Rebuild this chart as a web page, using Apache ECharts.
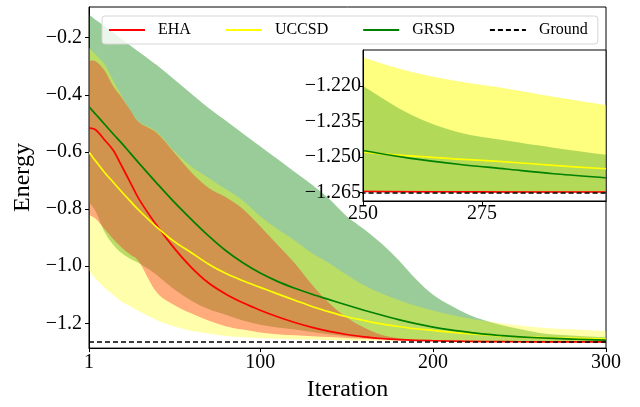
<!DOCTYPE html>
<html>
<head>
<meta charset="utf-8">
<script src="https://cdn.jsdelivr.net/npm/echarts@6/dist/echarts.min.js"></script>
<style>html,body{margin:0;padding:0;background:#fff;}#chart{width:640px;height:407px;}</style>
</head>
<body>
<div id="chart"></div>
<script>
const iterations = [1,5,10,15,20,25,30,40,50,60,70,80,90,100,110,120,130,140,150,160,170,180,190,200,210,220,230,240,250,260,270,280,290,301];

const ehaMean   = [-0.516,-0.523,-0.558,-0.594,-0.650,-0.708,-0.766,-0.856,-0.935,-1.003,-1.058,-1.097,-1.128,-1.154,-1.177,-1.197,-1.214,-1.228,-1.239,-1.2475,-1.253,-1.257,-1.2595,-1.261,-1.2622,-1.2632,-1.2638,-1.2642,-1.2645,-1.2646,-1.2646,-1.2647,-1.2647,-1.2647];
const ehaUpper  = [-0.281,-0.283,-0.315,-0.370,-0.410,-0.455,-0.497,-0.532,-0.600,-0.670,-0.725,-0.758,-0.800,-0.860,-0.925,-0.990,-1.065,-1.130,-1.180,-1.215,-1.240,-1.252,-1.258,-1.261,-1.2625,-1.263,-1.2635,-1.2638,-1.2641,-1.2642,-1.2643,-1.2643,-1.2644,-1.2644];
const ehaLower  = [-0.820,-0.835,-0.870,-0.905,-0.935,-0.960,-0.985,-1.090,-1.135,-1.165,-1.190,-1.210,-1.222,-1.232,-1.238,-1.242,-1.245,-1.248,-1.251,-1.254,-1.257,-1.259,-1.261,-1.262,-1.263,-1.2638,-1.2642,-1.2645,-1.2647,-1.2648,-1.2649,-1.2649,-1.2649,-1.2649];

const uccsdMean  = [-0.601,-0.633,-0.672,-0.706,-0.740,-0.773,-0.805,-0.862,-0.912,-0.952,-0.992,-1.025,-1.051,-1.074,-1.097,-1.119,-1.141,-1.160,-1.177,-1.190,-1.202,-1.211,-1.219,-1.225,-1.231,-1.236,-1.240,-1.244,-1.2478,-1.2495,-1.2508,-1.2520,-1.2535,-1.2549];
const uccsdUpper = [-0.235,-0.260,-0.293,-0.350,-0.405,-0.455,-0.495,-0.528,-0.595,-0.650,-0.690,-0.730,-0.770,-0.825,-0.870,-0.910,-0.955,-0.990,-1.030,-1.067,-1.095,-1.118,-1.138,-1.155,-1.170,-1.182,-1.192,-1.201,-1.208,-1.214,-1.218,-1.221,-1.2245,-1.228];
const uccsdLower = [-1.015,-1.045,-1.075,-1.100,-1.125,-1.140,-1.158,-1.188,-1.210,-1.226,-1.236,-1.244,-1.249,-1.252,-1.254,-1.256,-1.257,-1.258,-1.259,-1.260,-1.2605,-1.261,-1.2615,-1.262,-1.2625,-1.263,-1.2635,-1.264,-1.2645,-1.2647,-1.2648,-1.2648,-1.2648,-1.2648];

const grsdMean  = [-0.442,-0.469,-0.503,-0.537,-0.570,-0.605,-0.640,-0.708,-0.774,-0.835,-0.893,-0.945,-0.988,-1.024,-1.053,-1.077,-1.098,-1.117,-1.136,-1.154,-1.171,-1.187,-1.201,-1.213,-1.223,-1.231,-1.238,-1.243,-1.2472,-1.2505,-1.2530,-1.2550,-1.2570,-1.2587];
const grsdUpper = [-0.119,-0.138,-0.160,-0.183,-0.205,-0.228,-0.250,-0.295,-0.345,-0.395,-0.445,-0.490,-0.535,-0.580,-0.625,-0.670,-0.715,-0.765,-0.825,-0.870,-0.920,-0.978,-1.045,-1.100,-1.137,-1.168,-1.190,-1.207,-1.220,-1.232,-1.2395,-1.243,-1.246,-1.249];
const grsdLower = [-0.775,-0.810,-0.880,-0.925,-0.955,-0.975,-0.990,-1.030,-1.080,-1.120,-1.150,-1.170,-1.190,-1.205,-1.215,-1.222,-1.230,-1.238,-1.245,-1.250,-1.254,-1.257,-1.259,-1.261,-1.262,-1.263,-1.2638,-1.2643,-1.2647,-1.2648,-1.2648,-1.2648,-1.2648,-1.2648];

const groundEnergy = -1.2651;
const groundIterations = [1, 301];

const xTicksMain = [1, 100, 200, 300];
const yTicksMain = [-1.2, -1.0, -0.8, -0.6, -0.4, -0.2];
const xTicksInset = [250, 275];
const yTicksInset = [-1.265, -1.25, -1.235, -1.22];

const FONT = 'Liberation Serif';
const fmt = d => v => v.toFixed(d).replace('-', '\u2212');

function pairs(ys) { return iterations.map((x, i) => [x, ys[i]]); }

function smoothSegs(p) {
  let d = '';
  const n = p.length;
  for (let i = 0; i < n - 1; i++) {
    const p0 = p[Math.max(i - 1, 0)], p1 = p[i], p2 = p[i + 1], p3 = p[Math.min(i + 2, n - 1)];
    const c1 = [p1[0] + (p2[0] - p0[0]) / 6, p1[1] + (p2[1] - p0[1]) / 6];
    const c2 = [p2[0] - (p3[0] - p1[0]) / 6, p2[1] - (p3[1] - p1[1]) / 6];
    d += ' C' + c1[0] + ',' + c1[1] + ' ' + c2[0] + ',' + c2[1] + ' ' + p2[0] + ',' + p2[1];
  }
  return d;
}

function clipOf(cs) { return { type: 'rect', shape: { x: cs.x, y: cs.y, width: cs.width, height: cs.height } }; }

function band(name, upper, lower, color, xi, yi, z) {
  return {
    type: 'custom', name: name, xAxisIndex: xi, yAxisIndex: yi, z: z, silent: true,
    data: [[iterations[0], upper[0]]],
    renderItem: function (params, api) {
      const up = pairs(upper).map(p => api.coord(p));
      const lo = pairs(lower).map(p => api.coord(p)).reverse();
      const d = 'M' + up[0][0] + ',' + up[0][1] + smoothSegs(up) +
                ' L' + lo[0][0] + ',' + lo[0][1] + smoothSegs(lo) + ' Z';
      return { type: 'path', shape: { pathData: d }, style: { fill: color, stroke: null }, clipPath: clipOf(params.coordSys) };
    }
  };
}

function curve(name, ys, color, xi, yi, z) {
  return {
    type: 'custom', name: name + ' curve', xAxisIndex: xi, yAxisIndex: yi, z: z, silent: true,
    data: [[iterations[0], ys[0]]],
    renderItem: function (params, api) {
      const pts = pairs(ys).map(p => api.coord(p));
      const d = 'M' + pts[0][0] + ',' + pts[0][1] + smoothSegs(pts);
      return { type: 'path', shape: { pathData: d }, style: { fill: null, stroke: color, lineWidth: 1.7 }, clipPath: clipOf(params.coordSys) };
    }
  };
}

function legendLine(name, color) {
  return {
    type: 'line', name: name, data: [], symbol: 'none', showSymbol: false,
    lineStyle: { color: color, width: 1.7 }, itemStyle: { color: color }, silent: true
  };
}

function ground(xi, yi, z) {
  return {
    type: 'line', name: 'Ground', xAxisIndex: xi, yAxisIndex: yi, z: z,
    data: groundIterations.map(x => [x, groundEnergy]), symbol: 'none', showSymbol: false,
    lineStyle: { color: '#000', width: 1.6, type: [5, 3] }, itemStyle: { color: '#000' }, silent: true
  };
}

const axisCommon = {
  axisLine: { show: true, onZero: false, lineStyle: { color: '#000', width: 1 } },
  splitLine: { show: false },
};

const chart = echarts.init(document.getElementById('chart'), null, { renderer: 'canvas' });
chart.setOption({
  animation: false,
  backgroundColor: '#fff',
  grid: [
    { left: 89, top: 7, right: 34, bottom: 55, show: true, borderColor: '#000', borderWidth: 1, backgroundColor: 'transparent', z: 0 },
    { left: 363, top: 50, width: 243, height: 151, show: true, borderColor: '#000', borderWidth: 1, backgroundColor: '#fff', z: 10 }
  ],
  xAxis: [
    Object.assign({}, axisCommon, {
      type: 'value', gridIndex: 0, min: 1, max: 300,
      axisTick: { show: true, length: 4, customValues: xTicksMain, lineStyle: { color: '#000' } },
      axisLabel: { customValues: xTicksMain, color: '#000', fontFamily: FONT, fontSize: 20, margin: 5 },
      name: 'Iteration', nameLocation: 'middle', nameGap: 27,
      nameTextStyle: { color: '#000', fontFamily: FONT, fontSize: 24 }
    }),
    Object.assign({}, axisCommon, {
      type: 'value', gridIndex: 1, min: 250, max: 301, z: 13,
      axisTick: { show: true, length: 4, customValues: xTicksInset, lineStyle: { color: '#000' } },
      axisLabel: { customValues: xTicksInset, color: '#000', fontFamily: FONT, fontSize: 20, margin: 3 }
    })
  ],
  yAxis: [
    Object.assign({}, axisCommon, {
      type: 'value', gridIndex: 0, min: -1.2867, max: -0.0925,
      axisTick: { show: true, length: 4, customValues: yTicksMain, lineStyle: { color: '#000' } },
      axisLabel: { customValues: yTicksMain, color: '#000', fontFamily: FONT, fontSize: 20, margin: 7, formatter: fmt(1) },
      name: 'Energy', nameLocation: 'middle', nameGap: 49,
      nameTextStyle: { color: '#000', fontFamily: FONT, fontSize: 24 }
    }),
    Object.assign({}, axisCommon, {
      type: 'value', gridIndex: 1, min: -1.2685, max: -1.2048, z: 13,
      axisTick: { show: true, length: 3, customValues: yTicksInset, lineStyle: { color: '#000' } },
      axisLabel: { customValues: yTicksInset, color: '#000', fontFamily: FONT, fontSize: 20, margin: 2, formatter: fmt(3) }
    })
  ],
  legend: {
    data: ['EHA', 'UCCSD', 'GRSD', 'Ground'],
    left: 102, top: 16, padding: [6, 10, 6, 6], itemGap: 34, itemWidth: 36, itemHeight: 16,
    backgroundColor: 'rgba(255,255,255,0.8)', borderColor: '#d6d6d6', borderWidth: 1, borderRadius: 3,
    itemStyle: { opacity: 0 },
    textStyle: { color: '#000', fontFamily: FONT, fontSize: 16, padding: [0, 0, 0, 8] },
    z: 20, selectedMode: false
  },
  series: [
    legendLine('EHA', '#ff0000'),
    legendLine('UCCSD', '#ffff00'),
    legendLine('GRSD', '#008000'),
    ground(0, 0, 4),
    band('GRSD band', grsdUpper, grsdLower, 'rgba(0,128,0,0.4)', 0, 0, 2),
    band('UCCSD band', uccsdUpper, uccsdLower, 'rgba(255,255,0,0.33)', 0, 0, 2),
    band('EHA band', ehaUpper, ehaLower, 'rgba(255,0,30,0.33)', 0, 0, 2),
    curve('EHA', ehaMean, '#ff0000', 0, 0, 4),
    curve('UCCSD', uccsdMean, '#ffff00', 0, 0, 4),
    curve('GRSD', grsdMean, '#008000', 0, 0, 4),
    band('UCCSD inset band', uccsdUpper, uccsdLower, 'rgba(255,255,0,0.5)', 1, 1, 11),
    band('GRSD inset band', grsdUpper, grsdLower, 'rgba(0,128,0,0.3)', 1, 1, 11),
    band('EHA inset band', ehaUpper, ehaLower, 'rgba(255,0,30,0.33)', 1, 1, 11),
    ground(1, 1, 12),
    curve('EHA', ehaMean, '#ff0000', 1, 1, 12),
    curve('UCCSD', uccsdMean, '#ffff00', 1, 1, 12),
    curve('GRSD', grsdMean, '#008000', 1, 1, 12)
  ]
});
</script>
</body>
</html>
